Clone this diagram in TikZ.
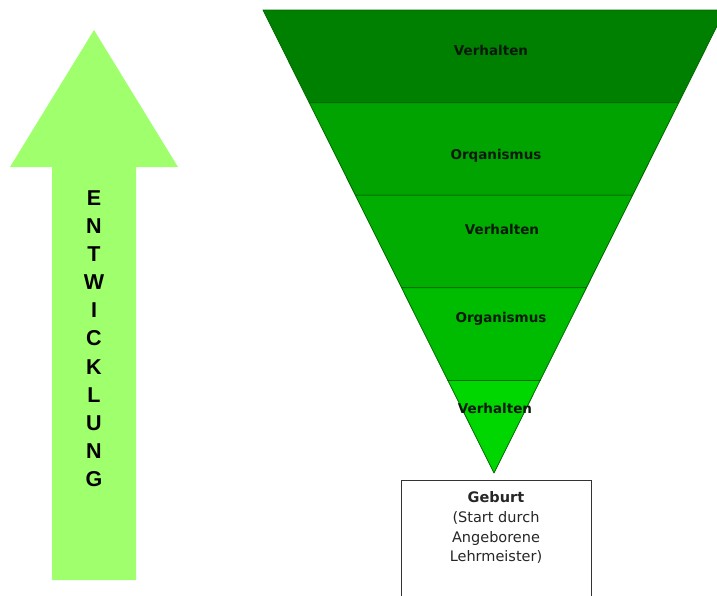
\documentclass[tikz,border=0pt]{standalone}
\usepackage{fontspec}
\setmainfont{DejaVu Sans}
\newfontfamily\arialfont{Liberation Sans}
\usetikzlibrary{calc}
\definecolor{lay1}{HTML}{008000}
\definecolor{lay2}{HTML}{00A300}
\definecolor{lay3}{HTML}{00AD00}
\definecolor{lay4}{HTML}{00BC00}
\definecolor{lay5}{HTML}{00D600}
\definecolor{edgegreen}{HTML}{006A00}
\definecolor{arrowgreen}{HTML}{A0FF6C}
\definecolor{labtext}{HTML}{0A1A0A}
\tikzset{
  layer/.style={draw=edgegreen, line width=0.8pt, line join=round},
  laylabel/.style={font=\fontsize{13.5}{15}\selectfont\bfseries, text=labtext, inner sep=0pt},
  boxline/.style={font=\fontsize{14.5}{17}\selectfont, text=black!85, inner sep=0pt},
  letter/.style={font=\arialfont\fontsize{21.5}{23}\selectfont\bfseries, text=black, inner sep=0pt}
}
\begin{document}
\begin{tikzpicture}[x=1pt,y=-1pt]
\useasboundingbox (0,0) rectangle (717,595);
\clip (0,0) rectangle (717,595);
% arrow
\fill[arrowgreen] (94,30) -- (178,167) -- (136,167) -- (136,580) -- (52,580) -- (52,167) -- (10,167) -- cycle;
\foreach \ch [count=\i from 0] in {E,N,T,W,I,C,K,L,U,N,G}
  \node[letter] (l\i) at (94,{198+28.1*\i}) {\ch};
% funnel
\coordinate (TL) at (263,10);
\coordinate (TR) at (725,10);
\coordinate (A) at (494,473);
\foreach \i/\c in {0/lay1,1/lay2,2/lay3,3/lay4} {
  \pgfmathsetmacro{\fa}{\i/5}
  \pgfmathsetmacro{\fb}{(\i+1)/5}
  \filldraw[layer, fill=\c] ($(TL)!\fa!(A)$) -- ($(TR)!\fa!(A)$) -- ($(TR)!\fb!(A)$) -- ($(TL)!\fb!(A)$) -- cycle;
}
\filldraw[layer, fill=lay5] ($(TL)!0.8!(A)$) -- ($(TR)!0.8!(A)$) -- (A) -- cycle;
\node[laylabel] (v1) at (491,50) {Verhalten};
\node[laylabel] (o1) at (496,156) {Orqanismus};
\node[laylabel] (v2) at (502,229) {Verhalten};
\node[laylabel] (o2) at (501,319) {Organismus};
\node[laylabel] (v3) at (495,408) {Verhalten};
% box
\draw[black!80, line width=0.8pt, fill=white] (401,480) rectangle (591,600);
\node[boxline, font=\fontsize{14.5}{17}\selectfont\bfseries] (g1) at (496,497) {Geburt};
\node[boxline] (g2) at (496,518) {(Start durch};
\node[boxline] (g3) at (496,538) {Angeborene};
\node[boxline] (g4) at (496,557) {Lehrmeister)};
\end{tikzpicture}
\end{document}
